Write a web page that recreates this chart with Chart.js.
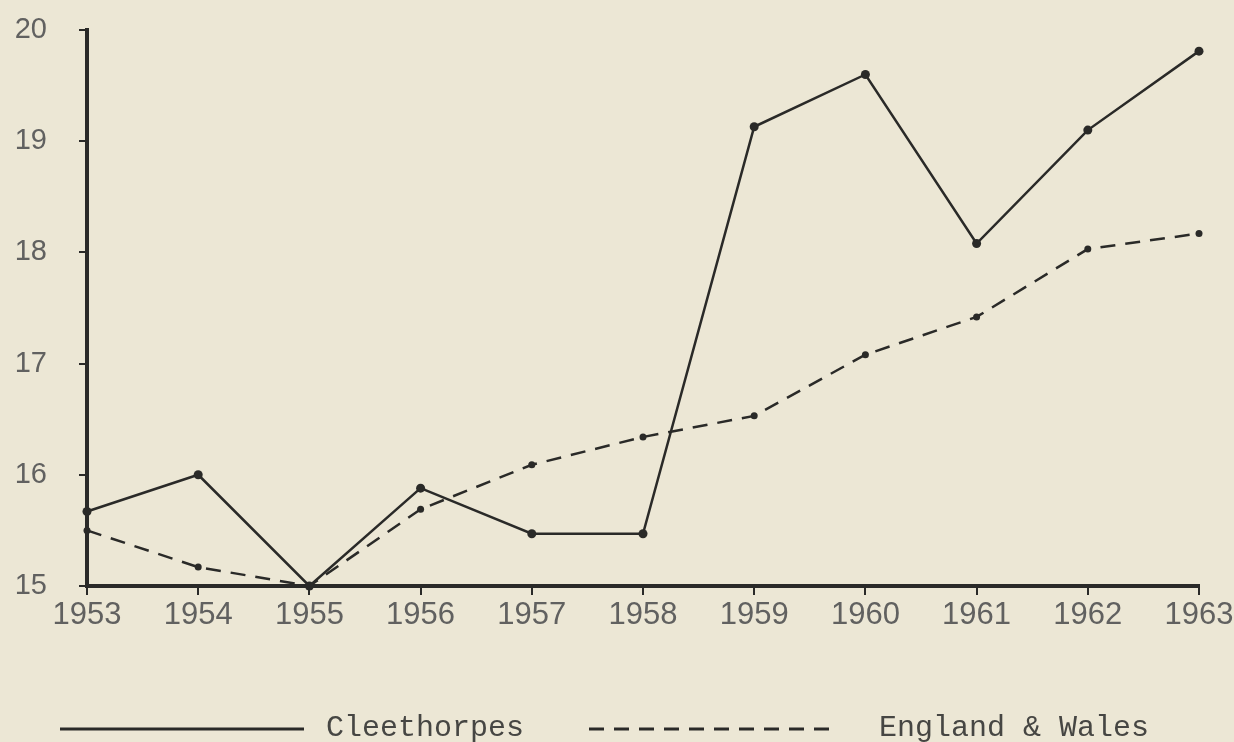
<!DOCTYPE html>
<html lang="en">
<head>
    <meta charset="UTF-8">
    <title>Cleethorpes vs England &amp; Wales, 1953-1963</title>
    <script src="https://cdn.jsdelivr.net/npm/chart.js@4.4.0/dist/chart.umd.min.js"></script>
    <style>
        html, body { margin: 0; padding: 0; background: #ece7d5; }
        #wrap { width: 1234px; height: 742px; }
    </style>
</head>
<body>
<div id="wrap"><canvas id="chart" width="1234" height="742"></canvas></div>
<script>
// data
const years = ['1953','1954','1955','1956','1957','1958','1959','1960','1961','1962','1963'];
const cleethorpes = [15.67, 16.0, 15.0, 15.88, 15.47, 15.47, 19.13, 19.6, 18.08, 19.1, 19.81];
const englandWales = [15.5, 15.17, 15.0, 15.69, 16.09, 16.34, 16.53, 17.08, 17.42, 18.03, 18.17];
const yTicks = [15, 16, 17, 18, 19, 20];

const ink = '#2a2a28';
const labelGrey = '#616160';

// paper background
const paper = {
    id: 'paper',
    beforeDraw(chart) {
        const ctx = chart.ctx;
        ctx.save();
        ctx.fillStyle = '#ece7d5';
        ctx.fillRect(0, 0, chart.width, chart.height);
        ctx.restore();
    }
};

// typed legend under the chart
const typedLegend = {
    id: 'typedLegend',
    afterDraw(chart) {
        const ctx = chart.ctx;
        const items = [
            { ds: chart.data.datasets[0], x0: 60, x1: 304, tx: 326 },
            { ds: chart.data.datasets[1], x0: 589, x1: 836, tx: 879 }
        ];
        ctx.save();
        items.forEach(it => {
            ctx.strokeStyle = ink;
            ctx.lineWidth = 3;
            ctx.setLineDash(it.ds.borderDash || []);
            ctx.beginPath();
            ctx.moveTo(it.x0, 729);
            ctx.lineTo(it.x1, 729);
            ctx.stroke();
            ctx.setLineDash([]);
            ctx.fillStyle = '#464643';
            ctx.font = '30px "Liberation Mono", monospace';
            ctx.textBaseline = 'alphabetic';
            ctx.fillText(it.ds.label, it.tx, 736);
        });
        ctx.restore();
    }
};

new Chart(document.getElementById('chart'), {
    type: 'line',
    data: {
        labels: years,
        datasets: [{
            label: 'Cleethorpes',
            data: cleethorpes,
            borderColor: ink,
            backgroundColor: ink,
            borderWidth: 2.5,
            pointRadius: 4.5,
            pointBorderWidth: 0,
            tension: 0,
            clip: false
        }, {
            label: 'England & Wales',
            data: englandWales,
            borderColor: ink,
            backgroundColor: ink,
            borderWidth: 2.5,
            borderDash: [15, 10],
            pointRadius: 3.5,
            pointBorderWidth: 0,
            tension: 0,
            clip: false
        }]
    },
    options: {
        responsive: false,
        animation: false,
        layout: { padding: { left: 0, top: 30, right: 35, bottom: 106 } },
        plugins: { legend: { display: false }, tooltip: { enabled: false } },
        scales: {
            x: {
                offset: false,
                afterFit: s => { s.height = 50; s.paddingLeft = 0; s.paddingRight = 0; },
                border: { display: true, color: ink, width: 4 },
                grid: { drawOnChartArea: false, drawTicks: true, tickLength: 9, color: ink, lineWidth: 2 },
                ticks: {
                    color: labelGrey,
                    font: { family: '"Liberation Sans", sans-serif', size: 31 },
                    padding: 2,
                    maxRotation: 0,
                    autoSkip: false
                }
            },
            y: {
                min: 15,
                max: 20,
                afterFit: s => { s.width = 87; s.paddingTop = 0; s.paddingBottom = 0; },
                afterBuildTicks: s => { s.ticks = yTicks.map(v => ({ value: v })); },
                border: { display: true, color: ink, width: 4 },
                grid: { drawOnChartArea: false, drawTicks: true, tickLength: 8, color: ink, lineWidth: 2 },
                ticks: {
                    color: labelGrey,
                    font: { family: '"Liberation Sans", sans-serif', size: 29 },
                    padding: 32
                }
            }
        }
    },
    plugins: [paper, typedLegend]
});
</script>
</body>
</html>
